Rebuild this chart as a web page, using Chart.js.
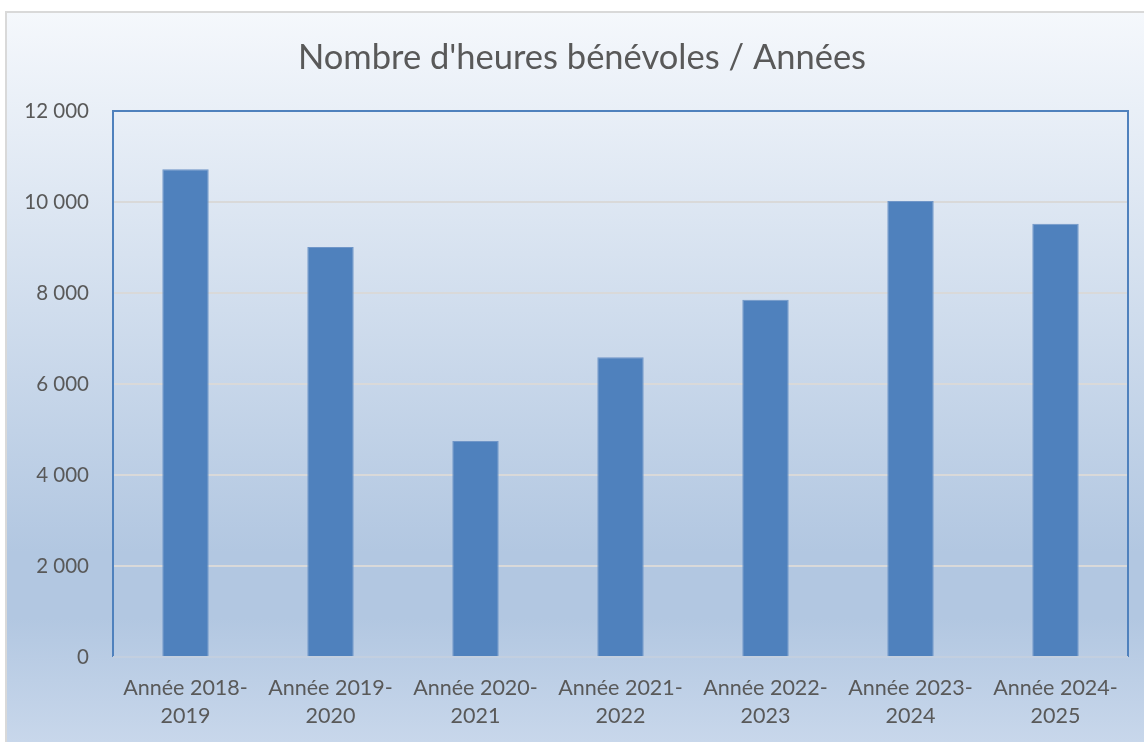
<!DOCTYPE html>
<html>
<head>
<meta charset="utf-8">
<script src="https://cdn.jsdelivr.net/npm/chart.js@4"></script>
<style>
  html, body { margin: 0; padding: 0; background: #ffffff; }
  #wrap { width: 1144px; height: 742px; position: relative; }
</style>
</head>
<body>
<div id="wrap"><canvas id="myChart" width="1144" height="742"></canvas></div>
<script>
const categories = [
  ['Année 2018-', '2019'],
  ['Année 2019-', '2020'],
  ['Année 2020-', '2021'],
  ['Année 2021-', '2022'],
  ['Année 2022-', '2023'],
  ['Année 2023-', '2024'],
  ['Année 2024-', '2025']
]
const heures = [10720, 9010, 4750, 6590, 7850, 10020, 9520]
const yTicks = [0, 2000, 4000, 6000, 8000, 10000, 12000]
const titre = "Nombre d'heures bénévoles / Années"

const textColor = '#595959'
const fontFamily = 'Lato, "Open Sans", sans-serif'

// background gradient, outer frame and title, like the Excel chart area
const backgroundPlugin = {
  id: 'bg',
  beforeDraw (chart) {
    const ctx = chart.ctx
    const x0 = 6; const y0 = 12; const w = 1138; const h = 730
    ctx.save()
    const g = ctx.createLinearGradient(0, y0, 0, y0 + h)
    g.addColorStop(0, '#f5f8fc')
    g.addColorStop(0.74, '#b2c7e1')
    g.addColorStop(0.83, '#b2c7e1')
    g.addColorStop(1, '#c8d7eb')
    ctx.fillStyle = g
    ctx.fillRect(x0, y0, w, h)
    ctx.strokeStyle = '#d9d9d9'
    ctx.lineWidth = 2
    ctx.strokeRect(x0, y0, w + 4, h + 4)
    // title, centred on the plot + axis block like in Excel
    ctx.fillStyle = textColor
    ctx.font = '34.5px ' + fontFamily
    ctx.textAlign = 'center'
    ctx.textBaseline = 'alphabetic'
    ctx.fillText(titre, 582, 69)
    ctx.restore()
  },
  afterDatasetsDraw (chart) {
    const a = chart.chartArea
    const ctx = chart.ctx
    ctx.save()
    ctx.strokeStyle = '#4f81bd'
    ctx.lineWidth = 2
    ctx.beginPath()
    ctx.moveTo(a.left, a.bottom)
    ctx.lineTo(a.left, a.top)
    ctx.lineTo(a.right, a.top)
    ctx.lineTo(a.right, a.bottom)
    ctx.stroke()
    ctx.strokeStyle = '#c3cfdf'
    ctx.beginPath()
    ctx.moveTo(a.left, a.bottom)
    ctx.lineTo(a.right, a.bottom)
    ctx.stroke()
    ctx.restore()
  }
}

const myChart = new Chart(document.getElementById('myChart'), {
  type: 'bar',
  data: {
    labels: categories,
    datasets: [{
      label: 'Heures bénévoles',
      data: heures,
      backgroundColor: '#4f81bd',
      borderColor: '#7096c8',
      borderWidth: 1,
      categoryPercentage: 1,
      barPercentage: 0.32
    }]
  },
  plugins: [backgroundPlugin],
  options: {
    responsive: false,
    animation: false,
    layout: {
      padding: { left: 0, right: 16, top: 111, bottom: 0 }
    },
    plugins: {
      legend: { display: false },
      tooltip: { enabled: false },
      title: { display: false }
    },
    scales: {
      y: {
        min: 0,
        max: 12000,
        afterBuildTicks (scale) {
          scale.ticks = yTicks.map(v => ({ value: v }))
        },
        afterFit (scale) {
          scale.width = 113
        },
        border: { display: false },
        grid: {
          color: '#d9d9d9',
          lineWidth: 2,
          drawTicks: false
        },
        ticks: {
          color: textColor,
          padding: 24,
          font: { family: fontFamily, size: 20.5 },
          callback: v => String(v).replace(/\B(?=(\d{3})+(?!\d))/g, ' ')
        }
      },
      x: {
        afterFit (scale) {
          scale.height = 85
        },
        border: { display: false },
        grid: { display: false },
        ticks: {
          color: textColor,
          padding: 9,
          maxRotation: 0,
          autoSkip: false,
          font: { family: fontFamily, size: 21.5, lineHeight: 1.3 }
        }
      }
    }
  }
})
</script>
</body>
</html>
